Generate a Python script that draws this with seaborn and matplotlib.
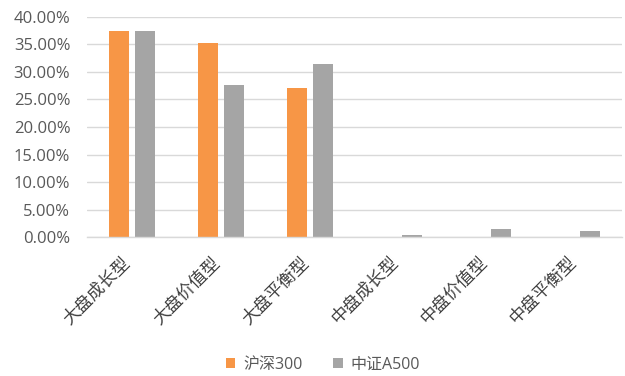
import matplotlib
matplotlib.use("Agg")
import matplotlib.pyplot as plt
import matplotlib.transforms as mtransforms
import seaborn as sns
import pandas as pd
from matplotlib.patches import Patch
from matplotlib.ticker import PercentFormatter, MultipleLocator

# Style buckets and weights of each index
categories = ["大盘成长型", "大盘价值型", "大盘平衡型", "中盘成长型", "中盘价值型", "中盘平衡型"]
series = ["沪深300", "中证A500"]
hs300 = [0.374, 0.352, 0.270, 0.0, 0.0, 0.0]
csi_a500 = [0.374, 0.276, 0.314, 0.004, 0.015, 0.011]
colors = ["#F79646", "#A5A5A5"]

df = pd.DataFrame({
    "风格": categories * 2,
    "权重": hs300 + csi_a500,
    "指数": [series[0]] * len(categories) + [series[1]] * len(categories),
})

sns.set_theme(style="white")
plt.rcParams["font.family"] = ["Open Sans", "Noto Sans CJK SC", "DejaVu Sans"]

W, H = 625, 376
fig = plt.figure(figsize=(W / 100, H / 100), dpi=100)
ax = fig.add_axes([87 / W, 138.7 / H, 535 / W, 220.6 / H])

sns.barplot(data=df, x="风格", y="权重", hue="指数", palette=colors,
            width=0.584, gap=0.23, linewidth=0, saturation=1,
            ax=ax, legend=False)

ax.set_ylim(0, 0.40)
ax.set_xlim(-0.5, len(categories) - 0.5)
ax.yaxis.set_major_locator(MultipleLocator(0.05))
ax.yaxis.set_major_formatter(PercentFormatter(1.0, decimals=2))
ax.yaxis.grid(True, color="#D9D9D9", linewidth=1.0)
ax.set_axisbelow(True)
for side in ["left", "right", "top"]:
    ax.spines[side].set_visible(False)
ax.spines["bottom"].set_color("#D9D9D9")
ax.spines["bottom"].set_linewidth(1.0)
ax.set_xlabel("")
ax.set_ylabel("")
ax.tick_params(axis="both", length=0)
ax.tick_params(axis="y", pad=12, labelsize=12, labelcolor="#595959")
ax.tick_params(axis="x", pad=16, labelsize=12.5, labelcolor="#404040")
shift = mtransforms.ScaledTranslation(-3 / 72, 0, fig.dpi_scale_trans)
for lbl in ax.get_xticklabels():
    lbl.set_rotation(45)
    lbl.set_ha("right")
    lbl.set_va("center")
    lbl.set_rotation_mode("anchor")
    lbl.set_fontfamily(["Noto Sans CJK SC"])
    lbl.set_fontweight("light")
    lbl.set_transform(lbl.get_transform() + shift)

handles = [Patch(facecolor=c, edgecolor="none") for c in colors]
fig.legend(handles, series, loc="center", bbox_to_anchor=(323 / W, 1 - 365 / H),
           ncol=2, frameon=False, handlelength=0.6, handleheight=0.6,
           handletextpad=0.5, columnspacing=1.9,
           prop={"family": ["Open Sans", "Noto Sans CJK SC"], "size": 11.5},
           labelcolor="#595959")

fig.savefig("out.png", dpi=100)
